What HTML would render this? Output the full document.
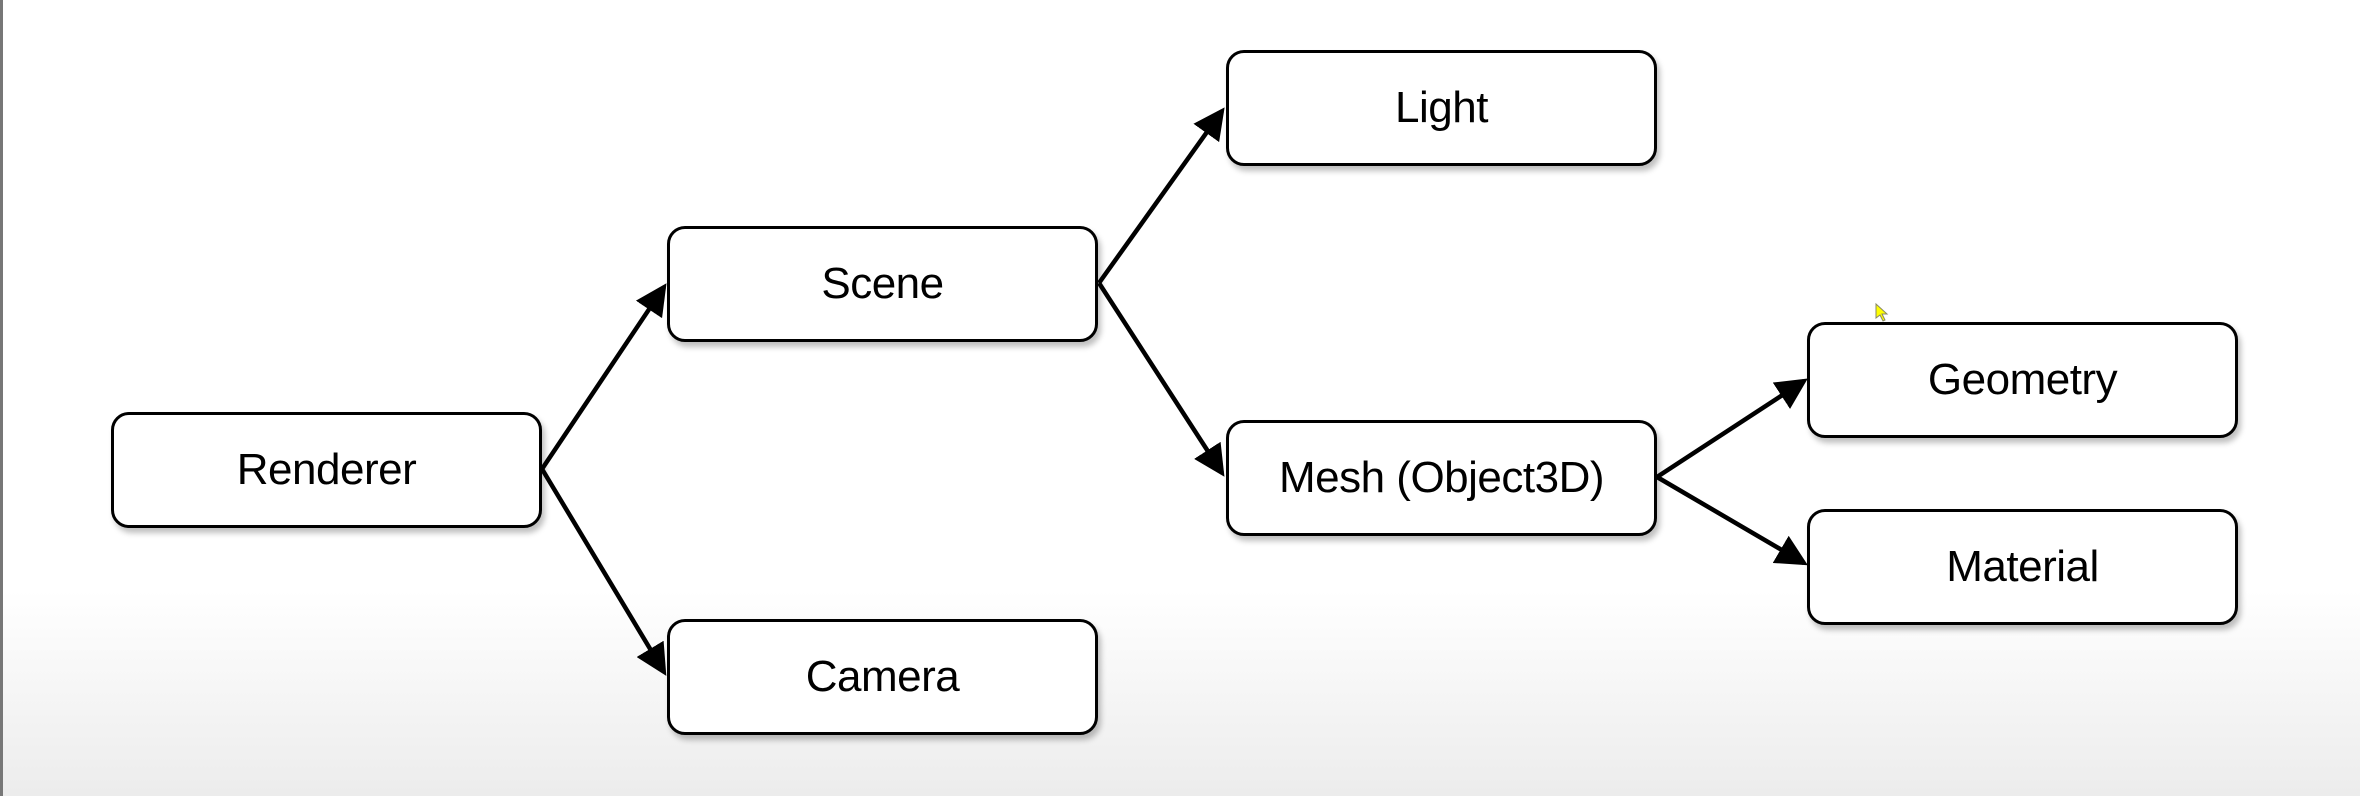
<!DOCTYPE html>
<html><head><meta charset="utf-8"><style>
html,body{margin:0;padding:0}
body{width:2360px;height:796px;position:relative;overflow:hidden;background:linear-gradient(to bottom,#fff 0,#fff 590px,#ececec 796px);font-family:"Liberation Sans",sans-serif}
.lb{position:absolute;left:0;top:0;width:3px;height:796px;background:#777}
.b{position:absolute;width:425px;height:110px;border:3px solid #000;border-radius:18px;background:#fff;box-shadow:3px 5px 6px rgba(0,0,0,0.25);display:flex;align-items:center;justify-content:center;font-size:44px;color:#000;letter-spacing:-0.5px}
svg{position:absolute;left:0;top:0}
</style></head><body>
<div class="lb"></div>
<svg width="2360" height="796">
<defs><marker id="a" markerWidth="7" markerHeight="7" refX="6" refY="3.5" orient="auto" markerUnits="strokeWidth"><path d="M0,0 L7,3.5 L0,7 z" fill="#000"/></marker></defs>
<g stroke="#000" stroke-width="4.5" fill="none">
<line x1="542" y1="469" x2="664" y2="287" marker-end="url(#a)"/>
<line x1="542" y1="469" x2="664" y2="672" marker-end="url(#a)"/>
<line x1="1099" y1="283" x2="1222" y2="111" marker-end="url(#a)"/>
<line x1="1099" y1="283" x2="1222" y2="473" marker-end="url(#a)"/>
<line x1="1657" y1="477" x2="1804" y2="381" marker-end="url(#a)"/>
<line x1="1657" y1="477" x2="1804" y2="563" marker-end="url(#a)"/>
</g>
<path d="M1876,304 l0,14 l4,-3 l3,6 l2,-1 l-3,-6 l5,0 z" fill="#ff0" stroke="#886" stroke-width="1"/>
</svg>
<div class="b" style="left:111px;top:412px">Renderer</div>
<div class="b" style="left:667px;top:226px">Scene</div>
<div class="b" style="left:667px;top:619px">Camera</div>
<div class="b" style="left:1226px;top:50px">Light</div>
<div class="b" style="left:1226px;top:420px">Mesh (Object3D)</div>
<div class="b" style="left:1807px;top:322px">Geometry</div>
<div class="b" style="left:1807px;top:509px">Material</div>
</body></html>
